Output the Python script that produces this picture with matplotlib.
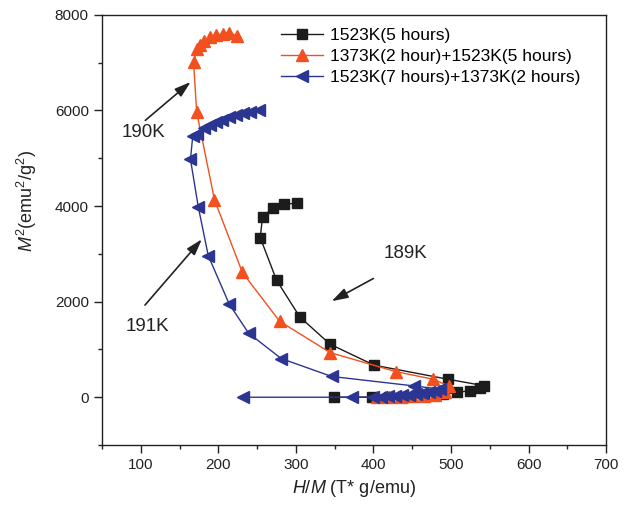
import matplotlib
matplotlib.use("Agg")
import matplotlib.pyplot as plt
from matplotlib.ticker import MultipleLocator

plt.rcParams['font.family'] = ['Liberation Sans', 'DejaVu Sans']
plt.rcParams['mathtext.fontset'] = 'custom'
plt.rcParams['mathtext.rm'] = 'Liberation Sans'
plt.rcParams['mathtext.it'] = 'Liberation Sans:italic'

# Series 1: 1523K(5 hours)
s1_x = [301, 285, 270, 257, 254, 275, 305, 344, 401, 496, 543, 538, 525, 508,
        490, 465, 440, 420, 398, 349]
s1_y = [4060, 4040, 3950, 3780, 3340, 2450, 1680, 1110, 670, 377, 240, 195, 140, 100,
        60, 30, 15, 5, 0, 0]

# Series 2: 1373K(2 hour)+1523K(5 hours)
s2_x = [224, 214, 206, 197, 189, 182, 176, 172, 168, 172, 195, 231, 279, 344, 429,
        477, 497, 492, 480, 465, 450, 435, 420, 405]
s2_y = [7560, 7630, 7600, 7580, 7530, 7460, 7370, 7280, 7020, 5970, 4130, 2610, 1590,
        935, 535, 377, 237, 100, 50, 35, 25, 15, 10, 5]

# Series 3: 1523K(7 hours)+1373K(2 hours)
s3_x = [252, 241, 232, 223, 214, 205, 197, 189, 181, 173, 167, 164, 174, 187, 214,
        239, 281, 346, 452, 486, 480, 472, 463, 455, 446, 437, 428, 419, 410, 400,
        372, 232]
s3_y = [6010, 5970, 5945, 5900, 5855, 5805, 5750, 5695, 5625, 5505, 5470, 4980, 3990,
        2960, 1950, 1340, 810, 435, 237, 170, 130, 100, 80, 65, 55, 45, 35, 25, 15, 5,
        0, 0]

labels = ["1523K(5 hours)", "1373K(2 hour)+1523K(5 hours)",
          "1523K(7 hours)+1373K(2 hours)"]

c_black = "#1c1c1c"
c_orange = "#f2501f"
c_blue = "#2b3592"
c_text = "#222222"

fig = plt.figure(figsize=(6.30, 5.09), dpi=100)
ax = fig.add_axes([0.162, 0.1257, 0.800, 0.845])

ax.plot(s1_x, s1_y, '-s', color=c_black, lw=1.0, ms=7, label=labels[0])
ax.plot(s2_x, s2_y, '-^', color=c_orange, lw=1.0, ms=9, label=labels[1])
ax.plot(s3_x, s3_y, '-<', color=c_blue, lw=1.0, ms=9, label=labels[2])

ax.set_xlim(50, 700)
ax.set_ylim(-1000, 8000)
ax.xaxis.set_major_locator(MultipleLocator(100))
ax.xaxis.set_minor_locator(MultipleLocator(50))
ax.yaxis.set_major_locator(MultipleLocator(2000))
ax.yaxis.set_minor_locator(MultipleLocator(1000))
ax.set_xticks([100, 200, 300, 400, 500, 600, 700])
ax.tick_params(which='major', direction='out', length=6, width=1, labelsize=11,
               colors=c_text)
ax.tick_params(which='minor', direction='out', length=3, width=1, colors=c_text)
for sp in ax.spines.values():
    sp.set_linewidth(1.0)
    sp.set_color(c_text)

ax.set_xlabel(r"$\it{H/M}$ (T* g/emu)", fontsize=13, color=c_text)
ax.set_ylabel(r"$\it{M}^{2}$(emu$^{2}$/g$^{2}$)", fontsize=13, color=c_text)
ax.yaxis.set_label_coords(-0.125, 0.567)

leg = ax.legend(loc='upper left', bbox_to_anchor=(0.335, 0.995), frameon=False,
                fontsize=12.5, handlelength=2.4, handletextpad=0.4,
                labelspacing=0.35, borderaxespad=0.2)

arrowprops = dict(arrowstyle='-|>,head_length=0.7,head_width=0.22',
                  color=c_text, lw=1.2, mutation_scale=14)
ax.annotate("", xy=(167, 6635), xytext=(103, 5755), arrowprops=arrowprops)
ax.text(103, 5546, "190K", fontsize=13.5, ha='center', va='center', color=c_text)
ax.annotate("", xy=(181, 3349), xytext=(103, 1884), arrowprops=arrowprops)
ax.text(108, 1486, "191K", fontsize=13.5, ha='center', va='center', color=c_text)
ax.annotate("", xy=(343, 1982), xytext=(403, 2512), arrowprops=arrowprops)
ax.text(441, 3014, "189K", fontsize=13.5, ha='center', va='center', color=c_text)

fig.savefig("out.png", dpi=100)
